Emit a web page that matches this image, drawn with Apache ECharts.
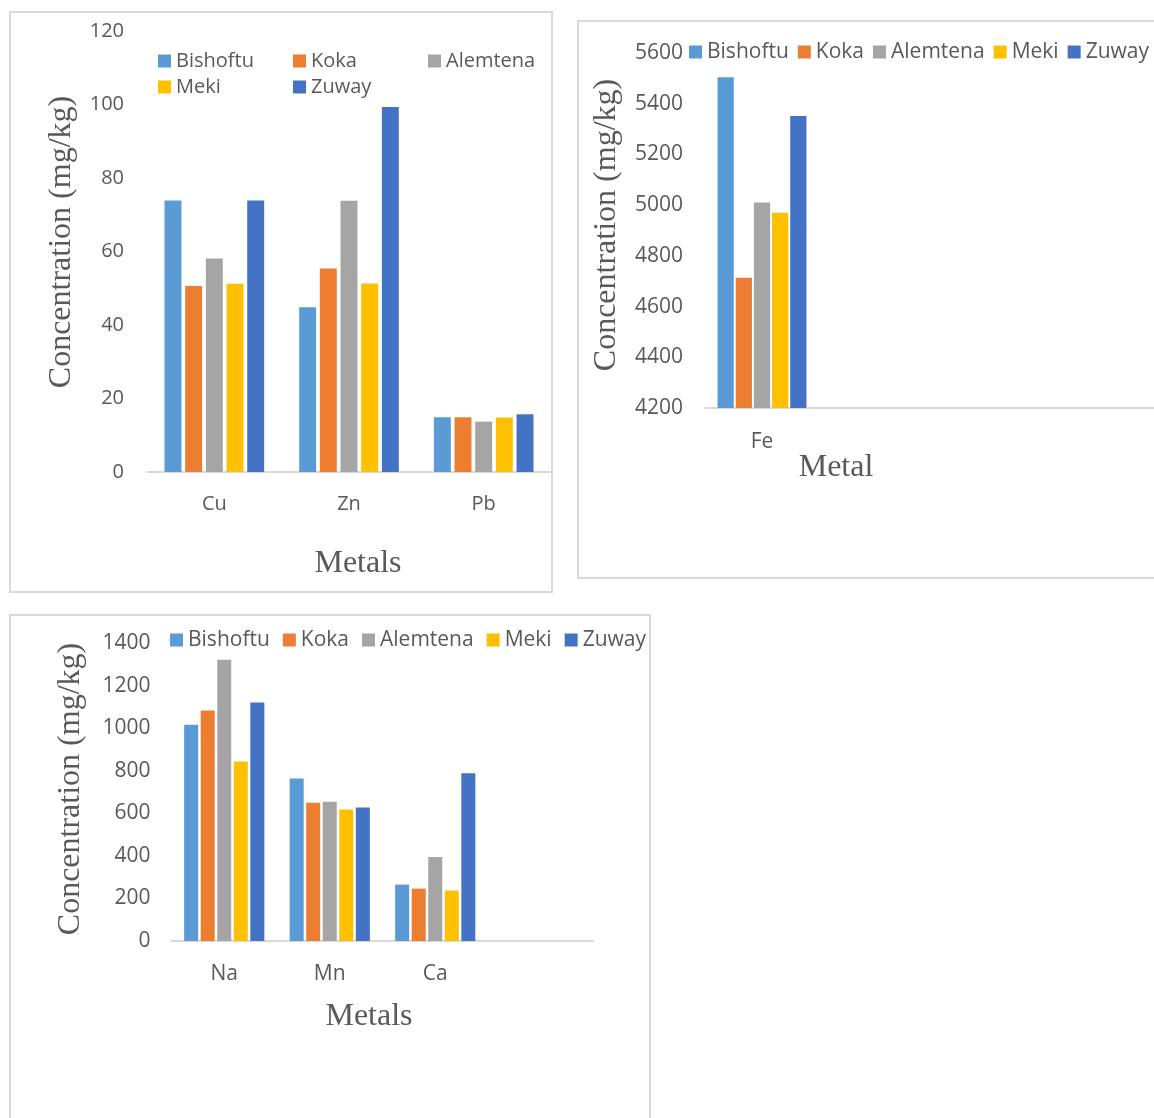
<!DOCTYPE html>
<html>
<head>
<meta charset="utf-8">
<title>Metal concentrations by site</title>
<script src="https://cdn.jsdelivr.net/npm/echarts@6/dist/echarts.min.js"></script>
<style>
  html, body { margin: 0; padding: 0; background: #ffffff; width: 1154px; height: 1118px; overflow: hidden; position: relative; }
  .chart { position: absolute; }
  .frame { position: absolute; border: 2px solid #d9d9d9; box-sizing: border-box; pointer-events: none; }
</style>
</head>
<body>
<div id="traceChart" class="chart" style="left:9px;top:11px;width:544px;height:582px;"></div>
<div class="frame" style="left:9px;top:11px;width:544px;height:582px;"></div>

<div id="ironChart" class="chart" style="left:577px;top:20px;width:700px;height:559px;"></div>
<div class="frame" style="left:577px;top:20px;width:700px;height:559px;"></div>

<div id="majorChart" class="chart" style="left:9px;top:614px;width:642px;height:540px;"></div>
<div class="frame" style="left:9px;top:614px;width:642px;height:540px;"></div>

<script>
// Sampling sites and their bar colours
const sites = ['Bishoftu', 'Koka', 'Alemtena', 'Meki', 'Zuway'];
const siteColors = ['#5B9BD5', '#ED7D31', '#A5A5A5', '#FFC000', '#4472C4'];

// Trace metals (mg/kg)
const traceMetals = ['Cu', 'Zn', 'Pb'];
const traceBishoftu = [73.9, 44.8, 14.9];
const traceKoka = [50.6, 55.4, 14.9];
const traceAlemtena = [58.1, 73.8, 13.7];
const traceMeki = [51.2, 51.3, 14.8];
const traceZuway = [73.9, 99.3, 15.7];
const traceAxis = [0, 120, 20];   // min, max, step

// Iron (mg/kg); the axis keeps blank slots so the Fe group stays narrow
const ironMetals = ['Fe', '', '', ''];
const ironBishoftu = [5504];
const ironKoka = [4714];
const ironAlemtena = [5010];
const ironMeki = [4970];
const ironZuway = [5352];
const ironAxis = [4200, 5600, 200];

// Major elements (mg/kg)
const majorMetals = ['Na', 'Mn', 'Ca', ''];
const majorBishoftu = [1016, 763, 265];
const majorKoka = [1083, 649, 246];
const majorAlemtena = [1321, 654, 395];
const majorMeki = [843, 618, 237];
const majorZuway = [1121, 627, 788];
const majorAxis = [0, 1400, 200];

const sansFont = "'Open Sans', 'Liberation Sans', sans-serif";
const serifFont = "'Liberation Serif', 'Times New Roman', serif";
const textGrey = '#595959';

function buildSeries(valueLists, barCategoryGap, barGap) {
  return sites.map((name, i) => ({
    name: name,
    type: 'bar',
    data: valueLists[i],
    barCategoryGap: barCategoryGap,
    barGap: barGap,
    itemStyle: { color: siteColors[i] },
    emphasis: { disabled: true }
  }));
}

function buildOption(cfg) {
  return {
    animation: false,
    textStyle: { fontFamily: sansFont },
    legend: cfg.legend,
    grid: cfg.grid,
    xAxis: {
      type: 'category',
      data: cfg.categories,
      axisLine: { lineStyle: { color: '#d9d9d9', width: 2 } },
      axisTick: { show: false },
      axisLabel: { color: textGrey, fontSize: cfg.labelSize, fontFamily: sansFont, margin: cfg.catMargin },
      name: cfg.xName,
      nameLocation: 'middle',
      nameGap: cfg.xNameGap,
      nameMoveOverlap: cfg.xNameMove,
      nameTextStyle: { color: textGrey, fontSize: 32, fontFamily: serifFont, padding: cfg.xNamePad }
    },
    yAxis: {
      type: 'value',
      min: cfg.axis[0],
      max: cfg.axis[1],
      interval: cfg.axis[2],
      axisLine: { show: false },
      axisTick: { show: false },
      splitLine: { show: false },
      axisLabel: {
        color: textGrey, fontSize: cfg.labelSize, fontFamily: sansFont, margin: cfg.valMargin,
        formatter: (v) => String(v)
      },
      name: 'Concentration (mg/kg)',
      nameLocation: 'middle',
      nameGap: cfg.yNameGap,
      nameTextStyle: { color: textGrey, fontSize: 32, fontFamily: serifFont, padding: cfg.yNamePad }
    },
    series: buildSeries(cfg.values, cfg.catGap, cfg.barGap)
  };
}

const legendBase = {
  icon: 'rect', itemWidth: 13, itemHeight: 13, padding: 0, orient: 'horizontal',
  selectedMode: false
};

// Chart 1: Cu, Zn, Pb — legend laid out in two rows of fixed columns
const traceLegendSpots = [[149, 40], [284, 40], [419, 40], [149, 66], [284, 66]];
const traceLegends = sites.map((name, i) => Object.assign({}, legendBase, {
  data: [name],
  left: traceLegendSpots[i][0],
  top: traceLegendSpots[i][1],
  textStyle: { color: textGrey, fontSize: 20, fontFamily: sansFont }
}));

echarts.init(document.getElementById('traceChart'), null, { renderer: 'canvas' }).setOption(buildOption({
  legend: traceLegends,
  grid: { left: 138, top: 20, width: 404, height: 441 },
  categories: traceMetals,
  values: [traceBishoftu, traceKoka, traceAlemtena, traceMeki, traceZuway],
  axis: traceAxis,
  labelSize: 20,
  catMargin: 22,
  valMargin: 23,
  xName: 'Metals',
  xNameGap: 76,
  xNameMove: true,
  xNamePad: [0, 0, 0, 18],
  yNameGap: 69,
  yNamePad: [0, 0, 0, 19],
  catGap: '26%',
  barGap: '22%'
}));

// Chart 2: Fe — the axis title sits close under the category label
echarts.init(document.getElementById('ironChart'), null, { renderer: 'canvas' }).setOption(buildOption({
  legend: Object.assign({}, legendBase, {
    data: sites, left: 112, top: 21.5, itemGap: 9,
    textStyle: { color: textGrey, fontSize: 21, fontFamily: sansFont }
  }),
  grid: { left: 128, top: 33, width: 456, height: 355 },
  categories: ironMetals,
  values: [ironBishoftu, ironKoka, ironAlemtena, ironMeki, ironZuway],
  axis: ironAxis,
  labelSize: 21,
  catMargin: 24,
  valMargin: 22,
  xName: 'Metal',
  xNameGap: 44,
  xNameMove: false,
  xNamePad: [0, 194, 0, 0],
  yNameGap: 82,
  yNamePad: [0, 0, 0, 11],
  catGap: '22%',
  barGap: '12%'
}));

// Chart 3: Na, Mn, Ca
echarts.init(document.getElementById('majorChart'), null, { renderer: 'canvas' }).setOption(buildOption({
  legend: Object.assign({}, legendBase, {
    data: sites, left: 161, top: 15.5, itemGap: 13,
    textStyle: { color: textGrey, fontSize: 21, fontFamily: sansFont }
  }),
  grid: { left: 162.5, top: 29, width: 422, height: 298 },
  categories: majorMetals,
  values: [majorBishoftu, majorKoka, majorAlemtena, majorMeki, majorZuway],
  axis: majorAxis,
  labelSize: 21,
  catMargin: 22.5,
  valMargin: 21,
  xName: 'Metals',
  xNameGap: 60,
  xNameMove: true,
  xNamePad: [0, 27, 0, 0],
  yNameGap: 85,
  yNamePad: [0, 0, 0, 6],
  catGap: '24%',
  barGap: '18%'
}));
</script>
</body>
</html>
